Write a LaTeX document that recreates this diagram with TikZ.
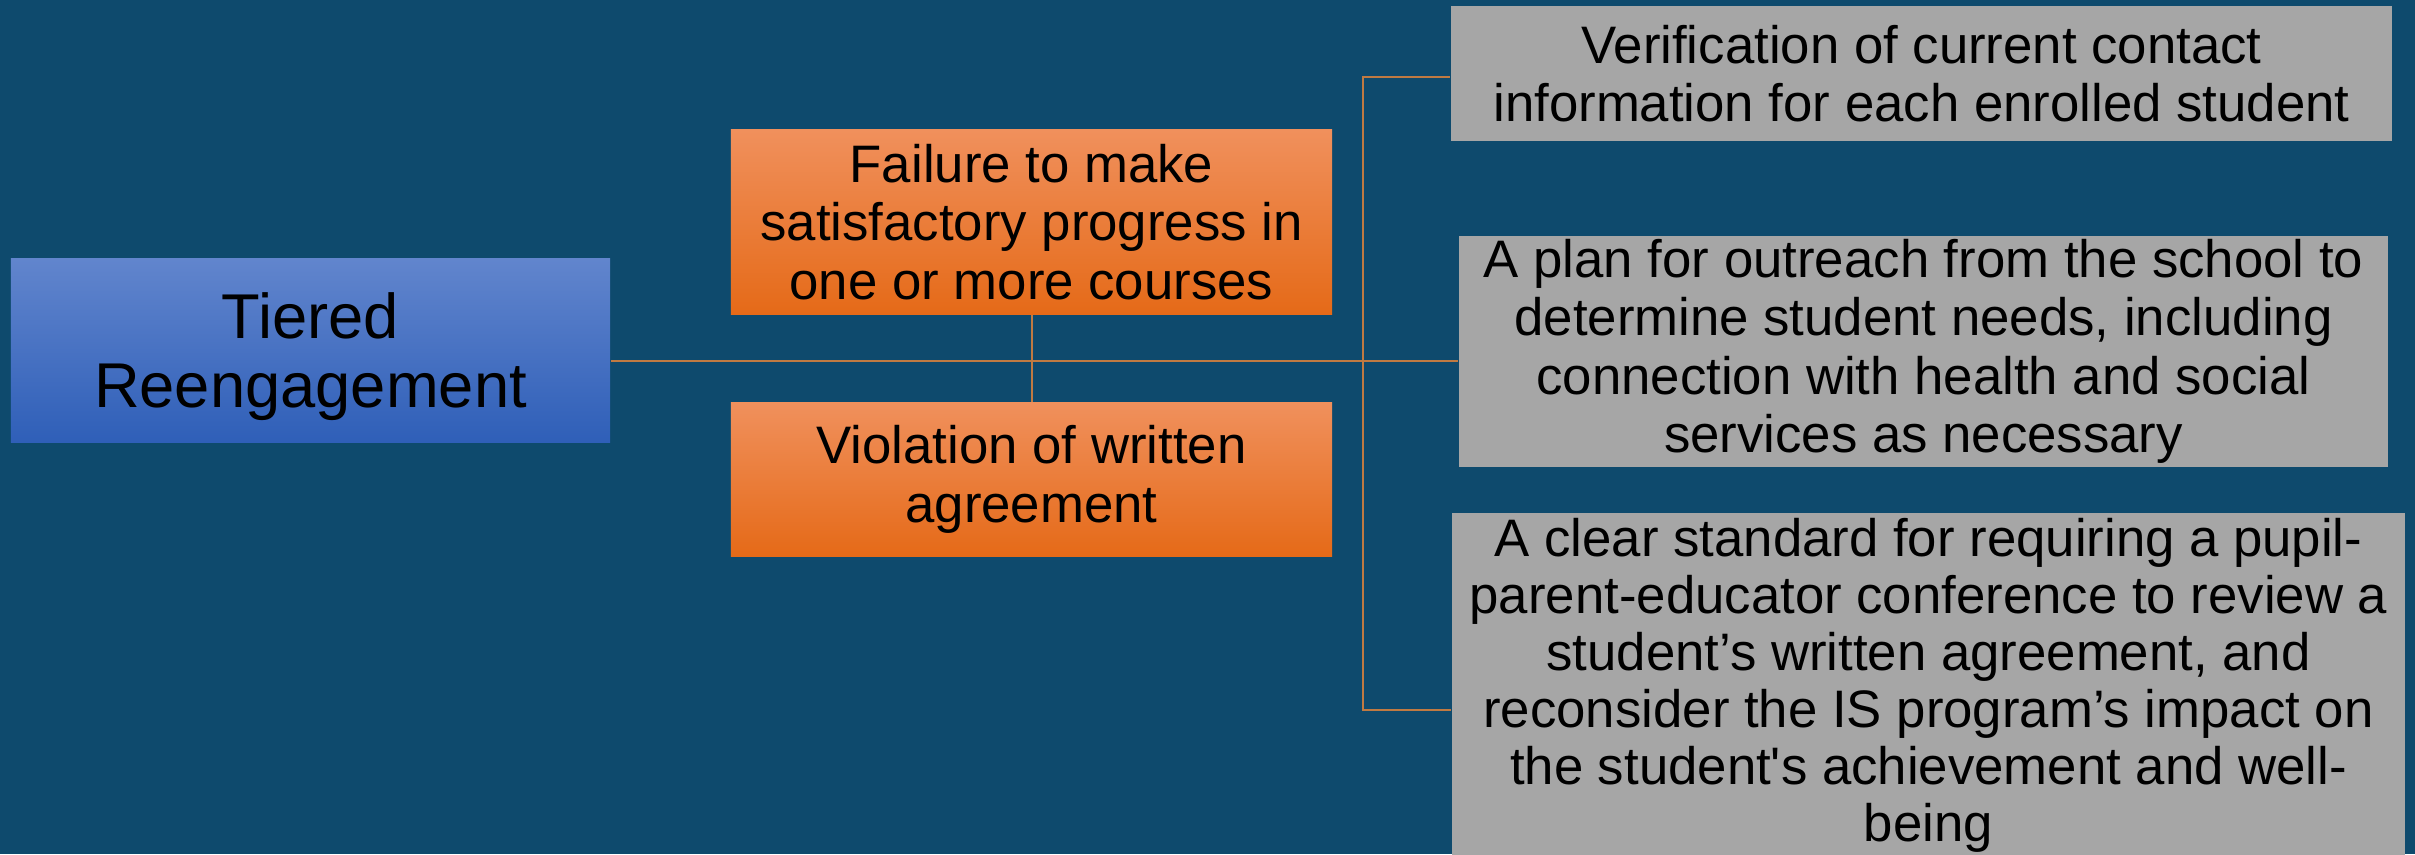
\documentclass[tikz,border=0pt]{standalone}
\usepackage{fontspec}
\setmainfont{Liberation Sans}
\usetikzlibrary{positioning}
\definecolor{bgblue}{HTML}{0E4A6D}
\definecolor{linkbrown}{HTML}{C07A42}
\definecolor{boxgray}{HTML}{A6A6A6}
\definecolor{rootTop}{HTML}{6185CD}
\definecolor{rootMid}{HTML}{3F6FCB}
\definecolor{rootBot}{HTML}{2F5FB8}
\definecolor{causeTop}{HTML}{F0905C}
\definecolor{causeMid}{HTML}{F27F30}
\definecolor{causeBot}{HTML}{E56A18}

\begin{document}
\begin{tikzpicture}[x=0.01cm, y=-0.01cm,
    box/.style={rectangle, inner sep=0pt, align=center, text=black,
      font=\fontsize{15}{16.6}\selectfont},
    rootbox/.style={box, top color=rootTop, middle color=rootMid,
      bottom color=rootBot, font=\fontsize{18}{19.7}\selectfont},
    causebox/.style={box, top color=causeTop, middle color=causeMid,
      bottom color=causeBot},
    stepbox/.style={box, fill=boxgray},
    link/.style={draw=linkbrown, line width=0.02cm}]

    % Background
    \useasboundingbox (0,0) rectangle (2415,854);
    \fill[bgblue] (0,0) rectangle (2415,854);
    \clip (0,0) rectangle (2415,854);

    % Root
    \node[rootbox, minimum width=5.99cm, minimum height=1.83cm] (tiered) at (310.5,350.5)
      {\rule{0pt}{0.58cm}Tiered\\Reengagement};

    % Triggers
    \node[causebox, minimum width=6.01cm, minimum height=1.84cm] (fail) at (1031.5,222)
      {Failure to make\\satisfactory progress in\\one or more courses};
    \node[causebox, minimum width=6.01cm, minimum height=1.53cm] (viol) at (1031.5,479.5)
      {Violation of written\\agreement};

    % Steps
    \node[stepbox, minimum width=9.41cm, minimum height=1.35cm] (verify) at (1921.5,73.5)
      {Verification of current contact\\information for each enrolled student};
    \node[stepbox, minimum width=9.29cm, minimum height=2.31cm] (outreach) at (1923.5,351.5)
      {A plan for outreach from the school to\\determine student needs, including\\connection with health and social\\services as necessary};
    \node[stepbox, minimum width=9.53cm, inner ysep=0.055cm, anchor=north,
      font=\fontsize{15}{16.2}\selectfont] (standard) at (1928.5,512)
      {A clear standard for requiring a pupil-\\parent-educator conference to review a\\student’s written agreement, and\\reconsider the IS program’s impact on\\the student\textquotesingle s achievement and well-\\being};

    % Connectors
    \coordinate (hub) at (1363,361);
    \coordinate (top) at (1363,77);
    \coordinate (bot) at (1363,710);
    \draw[link] (hub -| tiered.east) -- (hub) -- (hub -| outreach.west);
    \draw[link] (top -| verify.west) -- (top) -- (bot) -- (bot -| standard.west);
    \draw[link] (fail.south) -- (viol.north);
\end{tikzpicture}
\end{document}
